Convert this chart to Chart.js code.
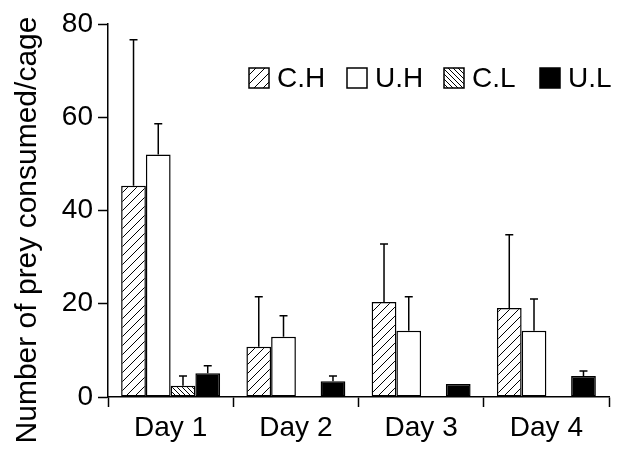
<!DOCTYPE html>
<html>
<head>
<meta charset="utf-8">
<script src="https://cdn.jsdelivr.net/npm/chart.js@4"></script>
<style>
  html, body { margin: 0; padding: 0; background: #fff; }
</style>
</head>
<body>
<canvas id="myChart" width="617" height="449"></canvas>
<script>
// data
var days = ['Day 1', 'Day 2', 'Day 3', 'Day 4'];
var groups = ['C.H', 'U.H', 'C.L', 'U.L'];
var chMean = [45.3, 10.8, 20.4, 19.1];
var chErr = [31.3, 10.7, 12.4, 15.7];
var uhMean = [52.0, 12.9, 14.2, 14.2];
var uhErr = [6.6, 4.5, 7.3, 6.8];
var clMean = [2.4, 0, 0, 0];
var clErr = [2.1, 0, 0, 0];
var ulMean = [5.1, 3.4, 2.8, 4.5];
var ulErr = [1.6, 1.1, 0, 1.1];
var yTicks = [0, 20, 40, 60, 80];
var yTitle = 'Number of prey consumed/cage';

var FONT = '"Liberation Sans", Arial, Helvetica, sans-serif';

function hatch(size, dir, lw) {
    var c = document.createElement('canvas');
    c.width = size; c.height = size;
    var g = c.getContext('2d');
    g.fillStyle = '#fff';
    g.fillRect(0, 0, size, size);
    g.strokeStyle = '#000';
    g.lineWidth = lw;
    g.beginPath();
    if (dir > 0) {
        // "/" lines
        g.moveTo(-1, size + 1); g.lineTo(size + 1, -1);
        g.moveTo(-1, 1); g.lineTo(1, -1);
        g.moveTo(size - 1, size + 1); g.lineTo(size + 1, size - 1);
    } else {
        // "\" lines
        g.moveTo(-1, -1); g.lineTo(size + 1, size + 1);
        g.moveTo(size - 1, -1); g.lineTo(size + 1, 1);
        g.moveTo(-1, size - 1); g.lineTo(1, size + 1);
    }
    g.stroke();
    return g.createPattern(c, 'repeat');
}

var ctx = document.getElementById('myChart').getContext('2d');
var slashFill = hatch(9, 1, 1);
var backFill = hatch(5, -1, 1);

var errorBars = {
    id: 'errorBars',
    afterDatasetsDraw: function (chart) {
        var c = chart.ctx;
        var y = chart.scales.y;
        c.save();
        c.strokeStyle = '#000';
        c.lineWidth = 1.5;
        chart.data.datasets.forEach(function (ds, i) {
            var meta = chart.getDatasetMeta(i);
            meta.data.forEach(function (bar, j) {
                var e = ds.errors[j];
                if (!e) return;
                var top = y.getPixelForValue(ds.data[j] + e);
                c.beginPath();
                c.moveTo(bar.x, bar.y);
                c.lineTo(bar.x, top);
                c.moveTo(bar.x - 4, top);
                c.lineTo(bar.x + 4, top);
                c.stroke();
            });
        });
        c.restore();
    }
};

// legend inside the plot (top right) and the rotated y title
var extras = {
    id: 'extras',
    afterDraw: function (chart) {
        var c = chart.ctx;
        var xs = [249, 347, 444, 540];
        var yc = 78;
        c.save();
        c.font = '28px ' + FONT;
        c.textBaseline = 'middle';
        chart.data.datasets.forEach(function (ds, i) {
            var x = xs[i];
            c.fillStyle = ds.backgroundColor;
            c.fillRect(x, yc - 10, 20, 20);
            c.strokeStyle = '#000';
            c.lineWidth = 1.5;
            c.strokeRect(x, yc - 10, 20, 20);
            c.fillStyle = '#000';
            c.fillText(ds.label, x + 28, yc + 1);
        });
        c.translate(28, 230);
        c.rotate(-Math.PI / 2);
        c.textAlign = 'center';
        c.font = '30px ' + FONT;
        c.fillText(yTitle, 0, 0);
        c.restore();
    }
};

var chart = new Chart(ctx, {
    type: 'bar',
    data: {
        labels: days,
        datasets: [
            { label: groups[0], data: chMean, errors: chErr, backgroundColor: slashFill },
            { label: groups[1], data: uhMean, errors: uhErr, backgroundColor: '#fff' },
            { label: groups[2], data: clMean, errors: clErr, backgroundColor: backFill },
            { label: groups[3], data: ulMean, errors: ulErr, backgroundColor: '#000' }
        ]
    },
    options: {
        responsive: false,
        animation: false,
        layout: { padding: { top: 24, right: 8, left: 0, bottom: 0 } },
        datasets: {
            bar: {
                borderColor: '#000',
                borderWidth: 1.5,
                borderSkipped: false,
                categoryPercentage: 0.79,
                barPercentage: 1
            }
        },
        plugins: {
            legend: { display: false },
            tooltip: { enabled: false }
        },
        scales: {
            x: {
                afterFit: function (s) { s.height = 52; },
                grid: {
                    offset: true,
                    drawOnChartArea: false,
                    drawTicks: true,
                    tickLength: 10,
                    tickColor: '#000',
                    tickWidth: 1.5
                },
                border: { display: true, color: '#000', width: 1.5 },
                ticks: { color: '#000', font: { family: FONT, size: 28 }, padding: 4 }
            },
            y: {
                min: 0,
                max: 80,
                afterFit: function (s) { s.width = 108; },
                afterBuildTicks: function (s) {
                    s.ticks = yTicks.map(function (v) { return { value: v }; });
                },
                grid: {
                    drawOnChartArea: false,
                    drawTicks: true,
                    tickLength: 10,
                    tickColor: '#000',
                    tickWidth: 1.5
                },
                border: { display: true, color: '#000', width: 1.5 },
                ticks: { color: '#000', font: { family: FONT, size: 28 }, padding: 5 }
            }
        }
    },
    plugins: [errorBars, extras]
});
</script>
</body>
</html>
